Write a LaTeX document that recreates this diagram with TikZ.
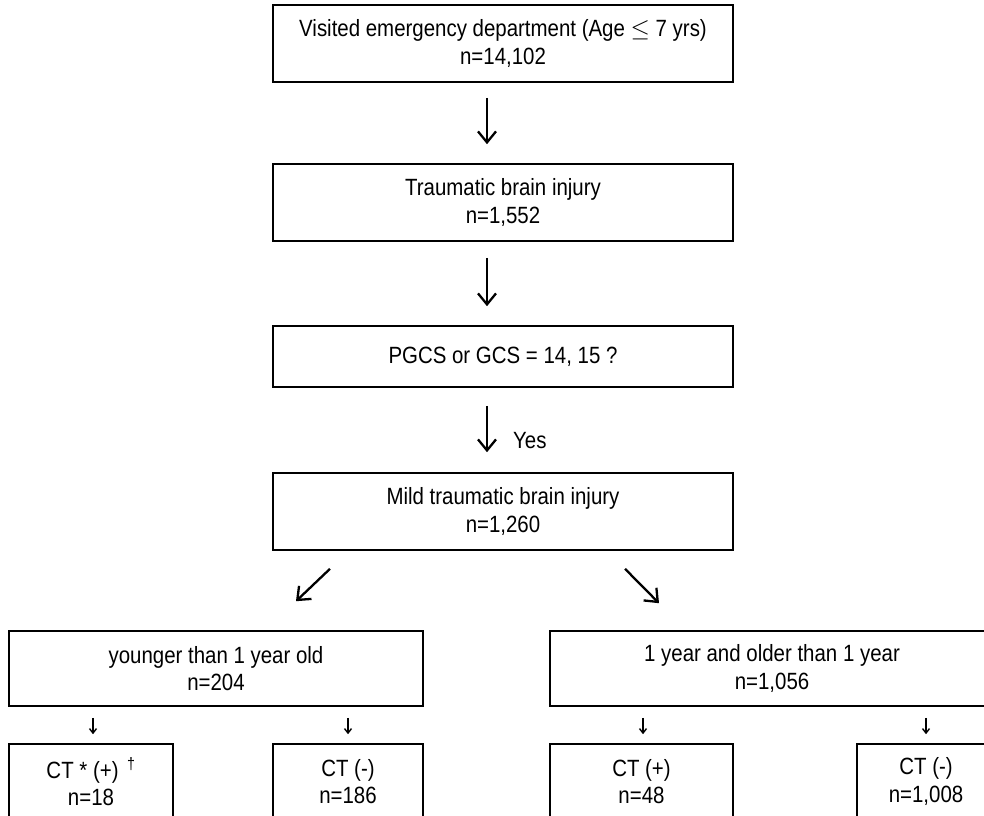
\documentclass[tikz,border=0pt]{standalone}
\usepackage{fontspec}
\setmainfont{Liberation Sans}[FakeStretch=0.87]
\usetikzlibrary{arrows.meta,calc}
\tikzset{
  box/.style={draw=black, line width=1.6pt, align=center, inner sep=0pt,
    font=\fontsize{23.5}{27.5}\selectfont},
  bigarr/.style={line width=2.3pt, -{Straight Barb[length=11pt,width=18pt,line width=2.3pt]}},
  smallarr/.style={line width=1.4pt, -{Straight Barb[length=4.5pt,width=7pt,line width=1.4pt]}},
  lbl/.style={font=\fontsize{23.5}{27.5}\selectfont, inner sep=0pt}
}
\begin{document}
\begin{tikzpicture}[x=1pt,y=-1pt]
\useasboundingbox (0,0) rectangle (984,815);
\fill[white] (0,0) rectangle (984,815);
\clip (0,0) rectangle (984,815);
% main column
\node[box, minimum width=460pt, minimum height=77pt] (b1) at (503,43.5)
  {Visited emergency department (Age $\leq$ 7 yrs)\\n=14,102};
\node[box, minimum width=460pt, minimum height=77pt] (b2) at (503,202.5)
  {Traumatic brain injury\\n=1,552};
\node[box, minimum width=460pt, minimum height=61pt] (b3) at (503,356.5)
  {PGCS or GCS = 14, 15 ?};
\node[box, minimum width=460pt, minimum height=77pt] (b4) at (503,511.5)
  {Mild traumatic brain injury\\n=1,260};
% second level
\node[box, minimum width=414pt, minimum height=75pt] (bL) at (216,668.5)
  {younger than 1 year old\\n=204};
\node[box, minimum width=444pt, minimum height=75pt] (bR) at (772,668.5)
  {1 year and older than 1 year\\n=1,056};
% CT boxes
\node[box, minimum width=164pt, minimum height=75pt] (cL1) at (91,781.5)
  {CT * (+) \textsuperscript{\,†}\\n=18};
\node[box, minimum width=150pt, minimum height=75pt] (cL2) at (348,781.5)
  {CT (-)\\n=186};
\node[box, minimum width=183pt, minimum height=75pt] (cR1) at (641.5,781.5)
  {CT (+)\\n=48};
\node[box, minimum width=138pt, minimum height=75pt] (cR2) at (926,781.5)
  {CT (-)\\n=1,008};
% main arrows
\draw[bigarr] ($(b1.south)+(-16,15)$) -- ($(b2.north)+(-16,-19)$);
\draw[bigarr] ($(b2.south)+(-16,16)$) -- ($(b3.north)+(-16,-19)$);
\draw[bigarr] ($(b3.south)+(-16,18)$) -- ($(b4.north)+(-16,-20)$)
  node[lbl, pos=0.75, right=25pt] (yes) {Yes};
% diagonal arrows
\draw[bigarr] ($(b4.south)+(-173,18)$) -- ($(bL.north)+(80,-29)$);
\draw[bigarr] ($(b4.south)+(122,18)$) -- ($(bR.north)+(-113,-27)$);
% small arrows
\draw[smallarr] ($(bL.south -| cL1.north)+(2,11)$) -- ($(cL1.north)+(2,-9)$);
\draw[smallarr] ($(bL.south -| cL2.north)+(0,11)$) -- ($(cL2.north)+(0,-9)$);
\draw[smallarr] ($(bR.south -| cR1.north)+(1.5,11)$) -- ($(cR1.north)+(1.5,-9)$);
\draw[smallarr] ($(bR.south -| cR2.north)+(0,11)$) -- ($(cR2.north)+(0,-9)$);
\end{tikzpicture}
\end{document}
